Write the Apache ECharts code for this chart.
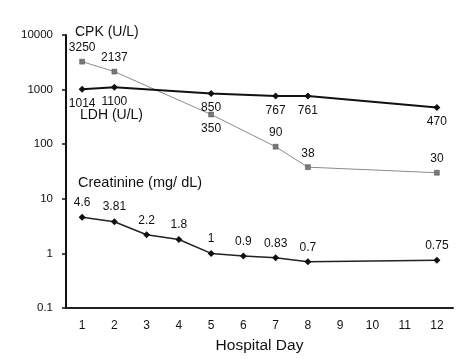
<!DOCTYPE html>
<html><head><meta charset="utf-8">
<script src="https://cdn.jsdelivr.net/npm/echarts@6/dist/echarts.min.js"></script>
<style>html,body{margin:0;padding:0;background:#fff}#c{width:471px;height:359px}</style>
</head><body><div id="c"></div>
<script>
var days = ['1','2','3','4','5','6','7','8','9','10','11','12'];
var cpk = [3250, 2137, null, null, 350, null, 90, 38, null, null, null, 30];
var ldh = [1014, 1100, null, null, 850, null, 767, 761, null, null, null, 470];
var creat = [4.6, 3.81, 2.2, 1.8, 1, 0.9, 0.83, 0.7, null, null, null, 0.75];
var cpkLabelPos = ['top','top',null,null,'bottom',null,'top','top',null,null,null,'top'];
var yTicks = [0.1, 1, 10, 100, 1000, 10000];

var font = 'Liberation Sans, Arial, sans-serif';
function mk(arr, posArr, defPos) {
  return arr.map(function (v, i) {
    if (v == null) return null;
    var o = { value: v };
    var p = posArr ? posArr[i] : defPos;
    o.label = { position: p };
    return o;
  });
}
var chart = echarts.init(document.getElementById('c'));
chart.setOption({
  animation: false,
  grid: { left: 66, right: 18, top: 35, bottom: 51 },
  xAxis: {
    type: 'category', data: days, boundaryGap: true,
    name: 'Hospital Day', nameLocation: 'middle', nameGap: 30,
    nameTextStyle: { color: '#111', fontSize: 15.5, fontFamily: font },
    axisLine: { lineStyle: { color: '#222', width: 2 } },
    axisTick: { show: false },
    axisLabel: { color: '#111', fontSize: 12, fontFamily: font, margin: 12 },
    splitLine: { show: false }
  },
  yAxis: {
    type: 'log', logBase: 10, min: 0.1, max: 10000,
    axisLine: { show: true, lineStyle: { color: '#111', width: 2 } },
    axisTick: { show: true, length: 4, lineStyle: { color: '#111', width: 1.5 } },
    axisLabel: { color: '#111', fontSize: 11.5, fontFamily: font, margin: 13,
      formatter: function (v) { var r = yTicks.filter(function (t) { return Math.abs(t - v) / t < 1e-6; }); return r.length ? String(r[0]) : ''; } },
    splitLine: { show: false },
    minorTick: { show: false }
  },
  series: [
    {
      name: 'CPK', type: 'line', data: mk(cpk, cpkLabelPos), connectNulls: true,
      symbol: 'rect', symbolSize: 5,
      itemStyle: { color: '#777', borderColor: '#555', borderWidth: 0.5 },
      lineStyle: { color: '#8a8a8a', width: 1 },
      label: { show: true, color: '#111', fontSize: 12, fontFamily: font, distance: 5 },
      z: 2
    },
    {
      name: 'LDH', type: 'line', data: mk(ldh, null, 'bottom'), connectNulls: true,
      symbol: 'diamond', symbolSize: 7,
      itemStyle: { color: '#111' },
      lineStyle: { color: '#111', width: 2 },
      label: { show: true, color: '#111', fontSize: 12, fontFamily: font, distance: 5 },
      z: 3
    },
    {
      name: 'Creatinine', type: 'line', data: mk(creat, null, 'top'), connectNulls: true,
      symbol: 'diamond', symbolSize: 7,
      itemStyle: { color: '#111' },
      lineStyle: { color: '#222', width: 1.5 },
      label: { show: true, color: '#111', fontSize: 12, fontFamily: font, distance: 5 },
      z: 3
    }
  ],
  graphic: [
    { type: 'text', left: 75, top: 25, style: { text: 'CPK (U/L)', font: '14px ' + font, fill: '#111' } },
    { type: 'text', left: 80, top: 108, style: { text: 'LDH (U/L)', font: '14px ' + font, fill: '#111' } },
    { type: 'text', left: 78, top: 175, style: { text: 'Creatinine (mg/ dL)', font: '14.5px ' + font, fill: '#111' } }
  ]
});
</script></body></html>
